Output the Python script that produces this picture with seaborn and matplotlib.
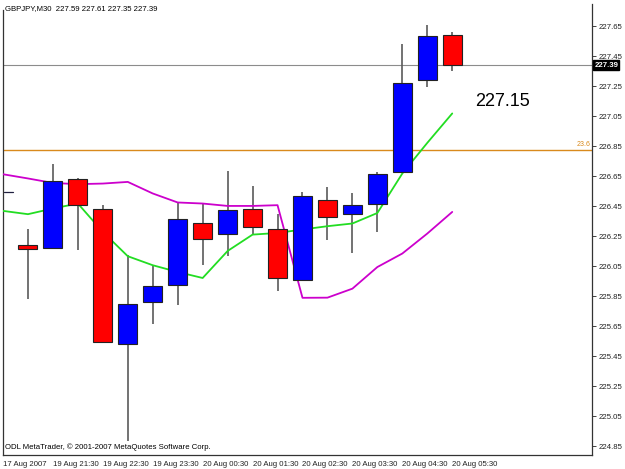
import numpy as np
import pandas as pd
import matplotlib
matplotlib.use("Agg")
import matplotlib.pyplot as plt
import matplotlib.transforms as mtransforms
import seaborn as sns

# ---- data ----
opens  = [226.195, 226.175, 226.630, 226.430, 225.535, 225.812, 225.923, 226.339, 226.268,
          226.430, 226.301, 225.957, 226.490, 226.397, 226.468, 226.679, 227.290, 227.59]
highs  = [226.300, 226.730, 226.635, 226.457, 226.128, 226.050, 226.472, 226.468, 226.683,
          226.583, 226.401, 226.545, 226.575, 226.541, 226.679, 227.530, 227.657, 227.61]
lows   = [225.835, 226.170, 226.161, 225.540, 224.883, 225.663, 225.790, 226.061, 226.117,
          226.268, 225.885, 225.950, 226.228, 226.139, 226.279, 226.670, 227.241, 227.35]
closes = [226.165, 226.620, 226.457, 225.545, 225.797, 225.917, 226.368, 226.235, 226.423,
          226.312, 225.975, 226.519, 226.379, 226.461, 226.663, 227.272, 227.583, 227.39]

ma_fast = [226.419, 226.397, 226.435, 226.468, 226.279, 226.117, 226.057, 226.012, 225.972,
           226.152, 226.261, 226.272, 226.295, 226.317, 226.335, 226.405, 226.668, 226.872, 227.068]
ma_slow = [226.663, 226.635, 226.605, 226.597, 226.601, 226.612, 226.535, 226.475, 226.468,
           226.452, 226.452, 226.457, 225.840, 225.841, 225.901, 226.045, 226.135, 226.268, 226.412]

x_tick_labels = ["17 Aug 2007", "19 Aug 21:30", "19 Aug 22:30", "19 Aug 23:30", "20 Aug 00:30",
                 "20 Aug 01:30", "20 Aug 02:30", "20 Aug 03:30", "20 Aug 04:30", "20 Aug 05:30"]
y_ticks = [224.85, 225.05, 225.25, 225.45, 225.65, 225.85, 226.05, 226.25,
           226.45, 226.65, 226.85, 227.05, 227.25, 227.45, 227.65]

bid_price = 227.39
fib_level = 226.823
fib_label = "23.6"
marker_level = 226.543
annotation = "227.15"
header = "GBPJPY,M30  227.59 227.61 227.35 227.39"
footer = "ODL MetaTrader, \u00a9 2001-2007 MetaQuotes Software Corp."

# ---- figure ----
sns.set_style("white")
plt.rcParams["font.family"] = ["Liberation Sans", "DejaVu Sans"]
small = 5.6

fig = plt.figure(figsize=(6.25, 4.69), dpi=100)
ax = fig.add_axes([3 / 625, 14 / 469, 589 / 625, 451 / 469])

n = len(opens)
xs = np.arange(n)
o = np.array(opens); c = np.array(closes); h = np.array(highs); l = np.array(lows)
up = c >= o

# horizontal reference lines
ax.axhline(bid_price, color="#8c8c8c", lw=0.8, zorder=1)
ax.axhline(fib_level, color="#d98a1c", lw=1.0, zorder=1)
ax.plot([-0.96, -0.6], [marker_level, marker_level], color="#202040", lw=0.9, zorder=1)

# wicks
ax.vlines(xs, l, h, color="#5a5a5a", lw=1.2, zorder=2)

# moving averages via seaborn
ma_x = np.arange(-1, n)
df = pd.DataFrame({"x": ma_x, "fast": ma_fast, "slow": ma_slow})
sns.lineplot(data=df, x="x", y="slow", color="#cc00cc", lw=1.3, ax=ax, zorder=3)
sns.lineplot(data=df, x="x", y="fast", color="#22dd22", lw=1.3, ax=ax, zorder=3)

# bodies
bottoms = np.minimum(o, c)
heights = np.maximum(np.abs(c - o), 0.004)
colors = np.where(up, "#0000ff", "#ff0000")
ax.bar(xs, heights, bottom=bottoms, width=0.76, color=colors,
       edgecolor="#222222", linewidth=0.8, zorder=4)

ax.set_xlim(-0.96, 22.6)
ax.set_ylim(224.793, 227.797)

# axes styling
ax.set_xlabel(""); ax.set_ylabel("")
ax.yaxis.tick_right()
ax.set_yticks(y_ticks)
ax.set_yticklabels([f"{v:.2f}" for v in y_ticks], fontsize=small, color="#222222")
ax.set_xticks(np.arange(-1, n, 2))
ax.set_xticklabels(x_tick_labels, fontsize=small, color="#222222", ha="left")
ax.tick_params(axis="both", direction="out", length=3, width=0.6, pad=1.5, colors="#222222")
for lab in ax.get_xticklabels():
    lab.set_horizontalalignment("left")
for side in ["left", "right", "bottom"]:
    ax.spines[side].set_visible(True)
    ax.spines[side].set_color("#333333")
    ax.spines[side].set_linewidth(0.9)
ax.spines["top"].set_visible(False)
ax.spines["left"].set_bounds(224.793, 227.757)

trans = mtransforms.blended_transform_factory(ax.transAxes, ax.transData)
# price box on right axis
ax.text(1.004, bid_price, f"{bid_price:.2f}", transform=trans, fontsize=small, color="white",
        fontweight="bold", va="center", ha="left",
        bbox=dict(boxstyle="square,pad=0.15", fc="black", ec="black"), zorder=6, clip_on=False)
# fib label
ax.text(0.998, fib_level + 0.012, fib_label, transform=trans, fontsize=5.0, color="#d98a1c",
        ha="right", va="bottom")
# big annotation
ax.text(17.9, 227.15, annotation, fontsize=13, color="black", va="center", ha="left")
# header and footer
ax.text(0.003, 0.991, header, transform=ax.transAxes, fontsize=small, color="black",
        va="center", ha="left")
ax.text(0.003, 0.018, footer, transform=ax.transAxes, fontsize=small, color="black",
        va="center", ha="left")

fig.savefig("out.png", dpi=100)
